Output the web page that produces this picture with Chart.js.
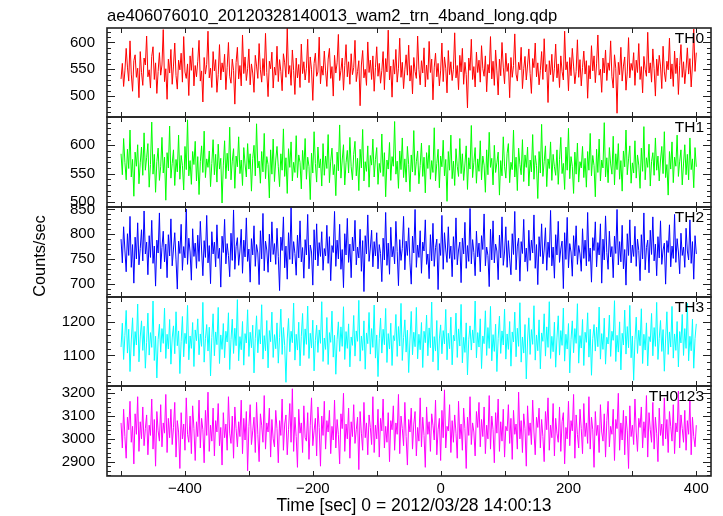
<!DOCTYPE html>
<html>
<head>
<meta charset="utf-8">
<script src="https://cdn.jsdelivr.net/npm/chart.js@4"></script>
<style>
  html, body { margin: 0; padding: 0; background: #fff; }
  #wrap { position: relative; width: 723px; height: 516px; }
  #wrap canvas { position: absolute; left: 0; top: 0; }
</style>
</head>
<body>
<div id="wrap"></div>
<script>
// WAM TRN 4-band light curve, five stacked panels sharing one time axis.

const TITLE = "ae406076010_20120328140013_wam2_trn_4band_long.qdp";
const X_TITLE = "Time [sec] 0 = 2012/03/28 14:00:13";
const Y_TITLE = "Counts/sec";

// time bins: first bin and bin width (sec)
const TIME_START = -500;
const TIME_BIN = 2;
const xTicks = [-400, -200, 0, 200, 400];

const panelNames = ["TH0", "TH1", "TH2", "TH3", "TH0123"];

const th0Counts = [
  532, 561, 518, 547, 589, 554, 528, 603, 541, 509, 566, 577, 535, 552, 497, 583, 544, 520, 571, 558,
  612, 536, 549, 515, 574, 592, 531, 562, 505, 546, 581, 539, 558, 624, 527, 551, 494, 569, 543, 587,
  522, 556, 599, 538, 513, 567, 549, 580, 526, 611, 545, 533, 560, 501, 575, 548, 590, 519, 557, 536,
  565, 604, 528, 547, 489, 572, 541, 559, 621, 534, 552, 516, 583, 547, 568, 507, 540, 596, 530, 562,
  545, 578, 512, 553, 600, 537, 524, 569, 548, 485, 563, 591, 532, 557, 519, 614, 542, 573, 529, 551,
  588, 521, 560, 543, 507, 576, 556, 533, 598, 549, 526, 570, 538, 617, 544, 499, 565, 551, 582, 515,
  554, 539, 593, 527, 568, 546, 510, 579, 562, 535, 627, 541, 557, 520, 586, 548, 503, 571, 534, 559,
  516, 597, 542, 564, 530, 552, 606, 525, 573, 549, 492, 561, 580, 537, 545, 610, 523, 556, 539, 584,
  547, 518, 569, 589, 533, 555, 500, 576, 543, 562, 615, 529, 548, 571, 511, 557, 596, 536, 564, 522,
  579, 540, 553, 604, 527, 546, 566, 482, 558, 585, 534, 550, 520, 601, 544, 567, 531, 575, 509, 553,
  592, 537, 561, 524, 548, 583, 512, 570, 545, 623, 530, 556, 498, 568, 541, 587, 526, 552, 608, 535,
  563, 514, 549, 577, 539, 595, 528, 557, 504, 572, 546, 533, 612, 550, 521, 566, 543, 590, 517, 558,
  531, 602, 544, 569, 493, 554, 580, 536, 561, 519, 547, 599, 527, 573, 552, 506, 585, 540, 564, 529,
  550, 618, 534, 557, 512, 576, 545, 589, 522, 563, 540, 478, 571, 548, 606, 531, 555, 517, 582, 544,
  567, 526, 594, 551, 537, 575, 508, 559, 543, 611, 532, 565, 520, 586, 547, 502, 569, 538, 600, 554,
  523, 580, 546, 561, 497, 572, 535, 557, 616, 541, 528, 563, 549, 591, 514, 551, 574, 530, 558, 588,
  542, 505, 570, 553, 599, 536, 562, 521, 548, 583, 531, 607, 545, 559, 488, 566, 540, 578, 527, 552,
  597, 534, 560, 516, 575, 546, 530, 621, 549, 564, 510, 572, 538, 589, 556, 523, 546, 605, 535, 568,
  519, 553, 584, 541, 566, 496, 557, 532, 594, 547, 575, 525, 560, 614, 539, 550, 507, 571, 543, 586,
  529, 562, 548, 603, 536, 515, 577, 552, 468, 563, 540, 591, 528, 556, 573, 511, 545, 609, 534, 561,
  548, 581, 520, 567, 544, 598, 531, 555, 506, 574, 550, 537, 619, 543, 562, 526, 588, 551, 500, 569,
  538, 576, 556, 514, 593, 545, 527, 565, 549, 608, 532, 560, 518, 584, 542, 571, 503, 557, 596, 535,
  564, 523, 552, 590, 541, 570, 517, 558, 625, 546, 581
];

const th1Counts = [
  585, 548, 612, 570, 539, 593, 559, 627, 544, 575, 510, 588, 563, 601, 532, 569, 597, 547, 622, 556,
  578, 603, 526, 566, 641, 549, 584, 517, 571, 595, 538, 562, 614, 551, 579, 503, 587, 560, 634, 542,
  568, 592, 529, 575, 553, 618, 540, 582, 564, 521, 598, 557, 645, 546, 573, 531, 589, 566, 607, 537,
  580, 513, 571, 599, 552, 625, 543, 576, 561, 590, 527, 568, 610, 548, 584, 535, 602, 558, 577, 498,
  565, 608, 541, 586, 555, 632, 539, 572, 594, 524, 581, 562, 615, 550, 574, 529, 596, 567, 544, 603,
  558, 585, 519, 577, 600, 546, 638, 560, 572, 533, 589, 553, 621, 541, 580, 566, 507, 592, 549, 611,
  536, 574, 598, 562, 527, 585, 556, 629, 545, 578, 515, 594, 561, 606, 537, 570, 552, 617, 543, 583,
  570, 523, 591, 557, 612, 540, 579, 563, 504, 586, 551, 624, 568, 535, 597, 560, 576, 528, 603, 547,
  581, 559, 619, 534, 572, 595, 548, 566, 511, 588, 555, 636, 542, 574, 601, 530, 569, 591, 551, 614,
  562, 539, 584, 607, 546, 577, 520, 593, 560, 628, 537, 571, 554, 599, 526, 582, 565, 611, 544, 575,
  596, 531, 568, 552, 620, 545, 587, 509, 574, 558, 605, 538, 580, 563, 642, 549, 572, 524, 590, 557,
  613, 543, 576, 535, 598, 566, 518, 583, 553, 626, 547, 571, 590, 532, 564, 604, 545, 579, 516, 587,
  559, 600, 540, 573, 552, 631, 537, 568, 593, 525, 581, 562, 609, 546, 575, 501, 589, 556, 618, 541,
  572, 529, 594, 563, 545, 612, 550, 585, 538, 567, 599, 522, 578, 558, 635, 543, 570, 596, 533, 576,
  554, 608, 539, 581, 565, 517, 592, 548, 623, 561, 577, 530, 600, 552, 569, 588, 512, 573, 546, 615,
  563, 542, 586, 603, 534, 570, 557, 627, 544, 579, 520, 595, 566, 548, 610, 536, 583, 561, 597, 528,
  574, 553, 619, 540, 582, 564, 506, 589, 551, 637, 545, 571, 599, 527, 576, 559, 606, 538, 584, 562,
  547, 592, 531, 575, 614, 550, 568, 522, 597, 556, 630, 541, 580, 563, 515, 588, 549, 604, 535, 571,
  560, 598, 543, 577, 526, 589, 556, 621, 546, 582, 564, 509, 593, 552, 611, 537, 574, 560, 640, 544,
  578, 534, 596, 567, 549, 616, 530, 585, 557, 603, 540, 573, 519, 590, 562, 627, 548, 576, 599, 533,
  569, 551, 608, 542, 583, 565, 524, 595, 554, 633, 539, 578, 561, 602, 528, 571, 587, 547, 613, 556,
  581, 537, 574, 598, 550, 624, 543, 566, 512, 589, 558, 606, 534, 579, 563, 618, 545, 572, 592, 530,
  567, 601, 548, 584, 539, 613, 557, 576, 525, 596, 562
];

const th2Counts = [
  790, 742, 815, 768, 724, 801, 757, 836, 733, 779, 701, 794, 750, 823, 738, 771, 809, 746, 847, 760,
  784, 718, 797, 753, 828, 741, 776, 695, 788, 762, 843, 730, 773, 806, 744, 780, 712, 799, 756, 831,
  736, 770, 803, 748, 689, 786, 761, 820, 727, 775, 752, 851, 739, 792, 764, 707, 811, 755, 782, 731,
  798, 745, 826, 768, 716, 787, 753, 838, 742, 777, 700, 805, 760, 784, 734, 819, 751, 772, 693, 796,
  763, 830, 740, 781, 757, 714, 802, 747, 849, 729, 775, 793, 737, 766, 810, 721, 788, 754, 833, 745,
  770, 703, 791, 758, 817, 735, 779, 762, 698, 807, 750, 842, 726, 786, 768, 723, 800, 744, 825, 759,
  781, 739, 812, 755, 686, 794, 767, 835, 732, 776, 709, 803, 749, 854, 740, 785, 761, 717, 798, 752,
  827, 744, 773, 711, 789, 758, 840, 730, 778, 764, 697, 809, 748, 821, 736, 783, 755, 805, 727, 771,
  756, 818, 741, 795, 706, 777, 763, 846, 735, 788, 750, 820, 729, 769, 692, 801, 758, 832, 743, 780,
  712, 794, 766, 828, 738, 774, 752, 810, 725, 787, 684, 797, 760, 839, 745, 772, 808, 734, 785, 756,
  803, 730, 779, 761, 704, 792, 748, 844, 737, 782, 719, 814, 754, 775, 740, 826, 765, 696, 789, 747,
  771, 836, 728, 786, 757, 813, 742, 699, 796, 762, 850, 733, 778, 753, 807, 721, 784, 766, 829, 739,
  760, 710, 799, 746, 822, 735, 773, 790, 688, 781, 757, 838, 729, 803, 768, 743, 815, 751, 776, 714,
  795, 749, 833, 738, 768, 784, 702, 792, 760, 824, 731, 777, 745, 852, 740, 789, 763, 716, 806, 754,
  782, 724, 797, 769, 841, 736, 774, 757, 694, 810, 748, 827, 742, 780, 766, 708, 798, 752, 835, 737,
  764, 815, 733, 787, 750, 718, 801, 759, 846, 728, 776, 792, 705, 785, 761, 830, 744, 772, 725, 808,
  747, 788, 762, 839, 731, 779, 698, 795, 755, 821, 740, 768, 813, 727, 784, 753, 848, 736, 774, 711,
  799, 758, 826, 743, 770, 786, 690, 803, 749, 834, 732, 781, 764, 715, 797, 756, 817, 739, 777, 760,
  725, 811, 751, 788, 736, 844, 745, 772, 703, 793, 767, 825, 734, 783, 758, 821, 701, 790, 748, 837,
  763, 729, 806, 754, 775, 712, 796, 761, 850, 738, 785, 744, 818, 730, 769, 697, 801, 757, 829, 742,
  778, 755, 816, 735, 790, 767, 706, 799, 750, 843, 728, 773, 788, 722, 808, 759, 835, 746, 780, 716,
  795, 752, 827, 739, 768, 782, 699, 787, 763, 819, 734, 776, 751, 840, 743, 791, 764, 720, 802, 757,
  774, 733, 812, 766, 748, 829, 741, 785, 709, 797, 760
];

const th3Counts = [
  1125, 1196, 1088, 1160, 1234, 1107, 1178, 1052, 1146, 1212, 1098, 1171, 1131, 1253, 1081, 1155, 1203, 1115, 1187, 1062,
  1139, 1226, 1101, 1168, 1124, 1262, 1085, 1157, 1033, 1148, 1193, 1110, 1180, 1136, 1241, 1091, 1163, 1119, 1207, 1074,
  1152, 1188, 1105, 1230, 1129, 1173, 1046, 1142, 1216, 1096, 1166, 1135, 1249, 1087, 1158, 1121, 1198, 1067, 1176, 1144,
  1209, 1102, 1164, 1127, 1258, 1080, 1150, 1192, 1113, 1184, 1039, 1153, 1224, 1099, 1170, 1132, 1243, 1076, 1161, 1118,
  1195, 1093, 1172, 1140, 1227, 1058, 1147, 1208, 1106, 1181, 1129, 1266, 1084, 1156, 1117, 1201, 1071, 1165, 1137, 1236,
  1097, 1169, 1123, 1190, 1048, 1151, 1218, 1108, 1177, 1134, 1251, 1089, 1159, 1114, 1204, 1063, 1174, 1141, 1229, 1094,
  1162, 1120, 1197, 1077, 1154, 1238, 1103, 1183, 1130, 1020, 1149, 1210, 1111, 1172, 1138, 1256, 1086, 1163, 1116, 1199,
  1069, 1157, 1225, 1100, 1179, 1133, 1247, 1091, 1166, 1122, 1205, 1054, 1145, 1190, 1109, 1176, 1136, 1260, 1082, 1152,
  1118, 1213, 1073, 1168, 1139, 1232, 1095, 1160, 1044, 1148, 1200, 1112, 1185, 1127, 1245, 1088, 1171, 1121, 1194, 1066,
  1155, 1130, 1219, 1098, 1173, 1142, 1264, 1083, 1158, 1115, 1203, 1059, 1167, 1135, 1228, 1104, 1180, 1124, 1250, 1092,
  1161, 1037, 1150, 1211, 1107, 1178, 1132, 1240, 1079, 1165, 1119, 1196, 1070, 1159, 1144, 1222, 1097, 1186, 1128, 1255,
  1085, 1153, 1206, 1110, 1175, 1049, 1146, 1231, 1102, 1169, 1126, 1243, 1090, 1163, 1117, 1198, 1064, 1172, 1138, 1220,
  1099, 1182, 1123, 1259, 1081, 1156, 1113, 1204, 1056, 1149, 1191, 1105, 1174, 1134, 1237, 1087, 1166, 1120, 1214, 1072,
  1160, 1143, 1226, 1094, 1179, 1128, 1252, 1078, 1154, 1109, 1197, 1042, 1147, 1188, 1116, 1176, 1137, 1262, 1093, 1168,
  1125, 1209, 1061, 1158, 1135, 1233, 1100, 1183, 1121, 1246, 1084, 1162, 1112, 1193, 1052, 1151, 1217, 1106, 1173, 1131,
  1238, 1089, 1164, 1118, 1201, 1068, 1170, 1140, 1229, 1096, 1181, 1127, 1257, 1080, 1155, 1107, 1192, 1030, 1146, 1212,
  1103, 1177, 1133, 1248, 1086, 1161, 1114, 1206, 1060, 1167, 1142, 1224, 1098, 1185, 1124, 1260, 1091, 1157, 1111, 1199,
  1065, 1152, 1218, 1101, 1174, 1130, 1241, 1083, 1163, 1119, 1195, 1048, 1148, 1203, 1108, 1180, 1136, 1254, 1077, 1159,
  1122, 1207, 1070, 1169, 1139, 1227, 1095, 1178, 1041, 1150, 1192, 1113, 1184, 1126, 1244, 1089, 1165, 1118, 1211, 1074,
  1154, 1134, 1220, 1097, 1172, 1145, 1263, 1082, 1160, 1110, 1200, 1057, 1166, 1131, 1235, 1104, 1186, 1123, 1249, 1093,
  1158, 1026, 1147, 1214, 1106, 1175, 1129, 1239, 1076, 1163, 1116, 1197, 1069, 1156, 1141, 1225, 1099, 1183, 1127, 1258,
  1088, 1151, 1204, 1112, 1177, 1053, 1149, 1230, 1103, 1170, 1125, 1246, 1092, 1164, 1115, 1201, 1066, 1171, 1137, 1222,
  1100, 1180, 1121, 1255, 1084, 1157, 1114, 1208, 1062, 1150, 1194
];

const th0123Counts = [
  3070, 2960, 3130, 3010, 2915, 3095, 3040, 3165, 2985, 3055, 2890, 3110, 3020, 3185, 2945, 3075, 3000, 3140, 2970, 3045,
  3105, 2930, 3060, 3015, 3175, 2955, 3085, 2880, 3120, 3035, 2990, 3150, 2965, 3070, 3025, 3195, 2940, 3090, 3005, 3130,
  2975, 3050, 3160, 2920, 3080, 3030, 2870, 3115, 3000, 3065, 2950, 3180, 3020, 2985, 3100, 2935, 3145, 3045, 2905, 3075,
  3010, 3170, 2960, 3090, 3040, 2895, 3125, 3015, 3205, 2945, 3060, 2990, 3135, 2925, 3080, 3030, 3155, 2970, 3050, 2885,
  3115, 3005, 3065, 2950, 3185, 3025, 2980, 3100, 2915, 3140, 3045, 2965, 3075, 3010, 3170, 2935, 3090, 2995, 3120, 2860,
  3055, 3150, 2975, 3035, 3095, 2940, 3160, 3020, 2900, 3110, 3060, 2985, 3190, 2955, 3070, 3030, 3135, 2920, 3085, 3000,
  2965, 3125, 3045, 2895, 3080, 3015, 3175, 2950, 3065, 3105, 2930, 3040, 3155, 2985, 3220, 2945, 3095, 3010, 2875, 3130,
  3025, 3070, 2940, 3145, 3005, 2990, 3115, 2910, 3060, 3180, 2970, 3035, 3090, 2925, 3140, 3050, 2880, 3100, 3015, 3165,
  2955, 3080, 3030, 3125, 2935, 3055, 2995, 3170, 2960, 3085, 3020, 2890, 3110, 3045, 3200, 2945, 3065, 3000, 3135, 2915,
  3075, 3010, 3150, 2980, 3040, 3095, 2865, 3120, 3025, 2950, 3160, 3005, 3070, 2930, 3105, 3050, 2975, 3185, 2940, 3060,
  3000, 3130, 2920, 3090, 3035, 3175, 2960, 3055, 2985, 3115, 2900, 3080, 3040, 3145, 2950, 3070, 3020, 3195, 2935, 3100,
  3045, 2970, 3160, 3010, 2885, 3085, 3030, 3135, 2955, 3065, 3120, 2925, 3050, 2990, 3180, 2965, 3095, 3015, 2875, 3140,
  3020, 3075, 2945, 3110, 3060, 2995, 3170, 2930, 3040, 3090, 2905, 3125, 3005, 3215, 2960, 3055, 3035, 3150, 2940, 3080,
  2985, 3105, 3025, 2915, 3165, 3000, 3065, 2950, 3135, 3045, 2870, 3095, 3015, 3185, 2975, 3070, 3030, 2925, 3120, 3050,
  3160, 2965, 3085, 3010, 3140, 2935, 3060, 3000, 3190, 2955, 3100, 3040, 2895, 3115, 3025, 3175, 2945, 3075, 2990, 3130,
  2920, 3055, 3035, 3150, 2980, 3090, 2910, 3125, 3020, 3065, 2955, 3205, 3000, 3080, 2940, 3110, 3045, 2880, 3145, 3015,
  3070, 2975, 3170, 3030, 2930, 3095, 3050, 3135, 2960, 3085, 3010, 2900, 3120, 3040, 3180, 2950, 3060, 3005, 3155, 2925,
  3090, 3025, 2985, 3140, 2945, 3075, 3115, 2890, 3050, 3000, 3165, 2970, 3080, 3035, 3195, 2915, 3105, 3020, 2960, 3130,
  3045, 2935, 3155, 3010, 3070, 2980, 3185, 2955, 3095, 3040, 2875, 3120, 3015, 3060, 2940, 3150, 3030, 2990, 3110, 2920,
  3080, 3165, 2965, 3055, 3020, 3130, 2905, 3085, 3045, 3200, 2950, 3070, 2995, 3125, 2930, 3100, 3035, 2870, 3145, 3010,
  3060, 2975, 3175, 3030, 2945, 3090, 3050, 3140, 2960, 3075, 3005, 3190, 2920, 3115, 3040, 2985, 3160, 2955, 3095, 3025,
  2900, 3135, 3015, 3065, 2970, 3180, 3000, 3085, 2940, 3120, 3055, 2990, 3150, 2935, 3070, 3030, 3210, 2960, 3105, 3045,
  2985, 3125, 2950, 3080, 3020, 3170, 2930, 3095, 3010, 2965, 3060
];

// labelled y ticks per panel
const th0Ticks = [500, 550, 600];
const th1Ticks = [500, 550, 600];
const th2Ticks = [700, 750, 800, 850];
const th3Ticks = [1100, 1200];
const th0123Ticks = [2900, 3000, 3100, 3200];

// ---- axis ranges / layout / style ----
const X_MIN = -522, X_MAX = 423;
const Y_RANGES = [[461, 627], [491, 650], [673, 855], [1009, 1274], [2837, 3232]];
const MINOR_STEP = [10, 10, 10, 20, 20];
const PANEL_EDGES = [28, 117, 207, 297, 386, 476];
const COLORS = ["#ff0000", "#00ff00", "#0000ff", "#00ffff", "#ff00ff"];
const W = 723, H = 516;
const FONT = "'Liberation Sans', Arial, Helvetica, sans-serif";

const series = [th0Counts, th1Counts, th2Counts, th3Counts, th0123Counts];
const yTicks = [th0Ticks, th1Ticks, th2Ticks, th3Ticks, th0123Ticks];

// plain numbers, real minus sign
const fmtTick = v => (v < 0 ? "\u2212" + Math.abs(v) : String(v));

// inward tick marks on all four sides, the frame and the panel label
const framePlugin = {
  id: "frame",
  afterDatasetsDraw(chart, args, opts) {
    const { ctx, chartArea: a, scales: { x, y } } = chart;
    ctx.save();
    ctx.strokeStyle = "#222";
    ctx.lineWidth = 1;
    ctx.beginPath();
    for (let t = -500; t <= 400; t += 100) {
      const px = Math.round(x.getPixelForValue(t)) + 0.5;
      ctx.moveTo(px, a.top); ctx.lineTo(px, a.top + 5);
      ctx.moveTo(px, a.bottom); ctx.lineTo(px, a.bottom - 5);
    }
    const step = opts.minorStep;
    for (let v = Math.ceil(y.min / step) * step; v <= y.max; v += step) {
      const py = Math.round(y.getPixelForValue(v)) + 0.5;
      const len = opts.majors.includes(v) ? 8 : 4;
      ctx.moveTo(a.left, py); ctx.lineTo(a.left + len, py);
      ctx.moveTo(a.right, py); ctx.lineTo(a.right - len, py);
    }
    ctx.stroke();
    ctx.lineWidth = 1.6;
    ctx.strokeRect(a.left, a.top, a.right - a.left, a.bottom - a.top);
    ctx.fillStyle = "#000";
    ctx.font = "15.5px " + FONT;
    ctx.textAlign = "right";
    ctx.textBaseline = "alphabetic";
    ctx.fillText(opts.label, a.right - 7, a.top + 15);
    ctx.restore();
  }
};

// figure title, shared y-axis title and time-axis title
const figTextPlugin = {
  id: "figText",
  afterDraw(chart) {
    const ctx = chart.ctx;
    ctx.save();
    ctx.fillStyle = "#000";
    ctx.font = "16.6px " + FONT;
    ctx.textAlign = "left";
    ctx.textBaseline = "alphabetic";
    ctx.fillText(TITLE, 107, 21);
    ctx.font = "17.5px " + FONT;
    ctx.textAlign = "center";
    ctx.textBaseline = "middle";
    ctx.fillText(X_TITLE, 414, 506);
    ctx.translate(41, 256);
    ctx.rotate(-Math.PI / 2);
    ctx.font = "16.3px " + FONT;
    ctx.fillText(Y_TITLE, 0, 0);
    ctx.restore();
  }
};

const wrap = document.getElementById("wrap");

function makePanel(i) {
  const canvas = document.createElement("canvas");
  canvas.style.width = W + "px";
  canvas.style.height = H + "px";
  canvas.width = W;
  canvas.height = H;
  wrap.appendChild(canvas);

  const last = i === series.length - 1;
  const pts = series[i].map((v, k) => ({ x: TIME_START + k * TIME_BIN, y: v }));
  const tickFont = { family: FONT, size: 15 };

  return new Chart(canvas, {
    type: "line",
    data: {
      datasets: [{
        data: pts,
        borderColor: COLORS[i],
        borderWidth: 1,
        pointRadius: 0,
        tension: 0,
        fill: false,
      }],
    },
    options: {
      responsive: false,
      animation: false,
      devicePixelRatio: 1,
      events: [],
      layout: {
        padding: {
          left: 47,
          right: W - 711,
          top: PANEL_EDGES[i],
          bottom: last ? 0 : H - PANEL_EDGES[i + 1],
        },
      },
      plugins: {
        legend: { display: false },
        tooltip: { enabled: false },
        frame: { label: panelNames[i], minorStep: MINOR_STEP[i], majors: yTicks[i] },
      },
      scales: {
        x: {
          type: "linear",
          min: X_MIN,
          max: X_MAX,
          display: last,
          grid: { display: false, drawTicks: false },
          border: { display: false },
          ticks: { font: tickFont, color: "#000", padding: 4, maxRotation: 0, callback: fmtTick },
          afterBuildTicks: s => { s.ticks = xTicks.map(v => ({ value: v })); },
          afterFit: s => { if (last) s.height = 40; },
        },
        y: {
          type: "linear",
          min: Y_RANGES[i][0],
          max: Y_RANGES[i][1],
          grid: { display: false, drawTicks: false },
          border: { display: false },
          ticks: { font: tickFont, color: "#000", padding: 12, callback: fmtTick },
          afterBuildTicks: s => { s.ticks = yTicks[i].map(v => ({ value: v })); },
          afterFit: s => { s.width = 60; },
        },
      },
    },
    plugins: i === 0 ? [framePlugin, figTextPlugin] : [framePlugin],
  });
}

series.forEach((_, i) => makePanel(i));
</script>
</body>
</html>
